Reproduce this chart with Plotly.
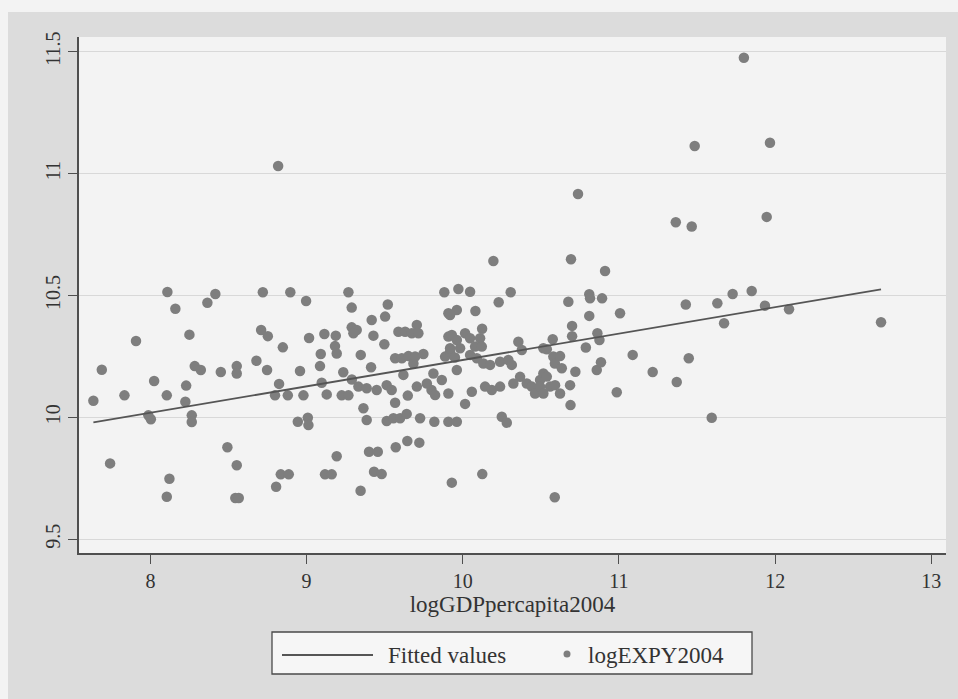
import plotly.graph_objects as go

# ---- data ----
gdp = [7.635, 7.689, 7.742, 7.834, 7.908, 7.987, 8.003, 8.024, 8.105, 8.109,
       8.122, 8.105, 8.160, 8.224, 8.229, 8.250, 8.265, 8.265, 8.284, 8.323,
       8.365, 8.416, 8.451, 8.493, 8.553, 8.544, 8.566, 8.553, 8.553,
       8.679, 8.709, 8.720, 8.747, 8.752, 8.798, 8.805, 8.824, 8.818, 8.835,
       8.848, 8.880, 8.886, 8.896, 8.944, 8.958, 8.980, 8.997, 9.008, 9.012,
       9.016, 9.086, 9.091, 9.097, 9.114, 9.118, 9.129, 9.161, 9.182, 9.187,
       9.193, 9.193, 9.225, 9.235, 9.268, 9.268, 9.289, 9.290,
       9.289, 9.321, 9.300, 9.332, 9.346, 9.347, 9.364, 9.385, 9.385, 9.400,
       9.413, 9.417, 9.428, 9.432, 9.449, 9.456, 9.481, 9.498, 9.503, 9.513,
       9.513, 9.520, 9.545, 9.556, 9.567, 9.567, 9.571, 9.588, 9.599, 9.610,
       9.620, 9.631, 9.641, 9.645, 9.648, 9.652, 9.674, 9.684, 9.695, 9.706,
       9.706, 9.716, 9.722, 9.727, 9.748, 9.770, 9.800, 9.812, 9.818, 9.823,
       9.866, 9.882, 9.887, 9.908, 9.908, 9.908, 9.908, 9.919, 9.930, 9.950,
       9.962, 9.919, 9.930, 9.962, 9.962, 9.962, 9.972, 9.919, 9.983, 10.015,
       10.015, 10.047, 10.047, 10.047, 10.058, 10.079, 10.081, 10.090, 10.111, 10.122,
       10.124, 10.125, 10.132, 10.143, 10.175, 10.186, 10.196, 10.230, 10.239, 10.239,
       10.250, 10.282, 10.292, 10.307, 10.314, 10.324, 10.356, 10.367, 10.378, 10.410,
       10.442, 10.463, 10.495, 10.495, 10.516, 10.516, 10.516, 10.538, 10.538, 10.559,
       10.576, 10.580, 10.589, 10.590, 10.591, 10.623, 10.623, 10.634,
       10.676, 10.687, 10.690, 10.693, 10.700, 10.700, 10.721, 10.738, 10.788, 10.810,
       10.815, 10.810, 10.858, 10.862, 10.875, 10.885, 10.892, 10.911, 10.986, 11.007,
       11.088, 11.216, 11.364, 11.370, 11.428, 11.447, 11.466, 11.485, 11.594, 11.630,
       11.673, 11.728, 11.800, 11.850, 11.935, 11.946, 11.967, 12.089, 12.678]

expy = [10.068, 10.195, 9.811, 10.090, 10.313, 10.008, 9.992, 10.149, 10.090, 10.514,
        9.748, 9.674, 10.445, 10.064, 10.130, 10.339, 10.008, 9.981, 10.210, 10.194,
        10.470, 10.506, 10.186, 9.877, 9.803, 9.669, 9.669, 10.210, 10.180,
        10.232, 10.358, 10.513, 10.194, 10.333, 10.090, 9.715, 10.137, 11.031, 9.766,
        10.287, 10.090, 9.766, 10.513, 9.982, 10.190, 10.090, 10.477, 9.998, 9.968,
        10.325, 10.210, 10.260, 10.142, 10.342, 9.766, 10.094, 9.766, 10.292, 10.335,
        10.262, 9.840, 10.090, 10.185, 10.090, 10.513, 10.450, 10.155,
        10.369, 10.358, 10.345, 10.126, 9.699, 10.256, 10.037, 9.989, 10.119, 9.859,
        10.205, 10.399, 10.335, 9.777, 10.112, 9.859, 9.767, 10.300, 10.413, 10.132,
        9.985, 10.463, 10.112, 9.996, 10.242, 10.060, 9.877, 10.351, 9.996, 10.242,
        10.174, 10.351, 10.014, 9.903, 10.089, 10.251, 10.345, 10.221, 10.249, 10.379,
        10.126, 10.345, 9.896, 9.996, 10.260, 10.139, 10.112, 10.180, 9.982, 10.091,
        10.153, 10.513, 10.249, 10.427, 10.331, 9.982, 10.098, 10.269, 9.732, 10.245,
        10.440, 10.420, 10.338, 9.982, 10.317, 10.194, 10.526, 10.283, 10.283, 10.345,
        10.055, 10.515, 10.324, 10.256, 10.105, 10.290, 10.436, 10.242, 10.324, 10.290,
        10.363, 9.767, 10.221, 10.126, 10.215, 10.112, 10.641, 10.472, 10.228, 10.126,
        10.002, 9.978, 10.235, 10.513, 10.215, 10.139, 10.310, 10.166, 10.276, 10.139,
        10.126, 10.098, 10.153, 10.126, 10.180, 10.098, 10.283, 10.279, 10.167, 10.126,
        10.320, 10.249, 9.672, 10.221, 10.132, 10.251, 10.098, 10.201,
        10.474, 10.132, 10.050, 10.648, 10.375, 10.333, 10.187, 10.916, 10.286, 10.505,
        10.488, 10.416, 10.194, 10.345, 10.317, 10.226, 10.488, 10.600, 10.103, 10.427,
        10.256, 10.186, 10.800, 10.145, 10.463, 10.242, 10.783, 11.113, 9.998, 10.468,
        10.386, 10.506, 11.475, 10.518, 10.458, 10.822, 11.126, 10.443, 10.390]

fit_x = [7.635, 12.678]
fit_y = [9.979, 10.525]

x_ticks = [8, 9, 10, 11, 12, 13]
y_ticks = [9.5, 10, 10.5, 11, 11.5]
y_tick_text = ["9.5", "10", "10.5", "11", "11.5"]

x_title = "logGDPpercapita2004"
legend_labels = ["Fitted values", "logEXPY2004"]

# ---- styling ----
FONT = "Liberation Serif"
AX = "#4f4f4f"
MARK = "#7e7e7e"
W, H = 958, 699
L, R, T, B = 79, 12, 37, 146
PW, PH = W - L - R, H - T - B


def px_x(p):
    return (p - L) / PW


def px_y(p):
    return (H - B - p) / PH


fig = go.Figure()
fig.add_trace(go.Scatter(x=gdp, y=expy, mode="markers", name=legend_labels[1],
                         marker=dict(color=MARK, size=10.5, line=dict(width=0)),
                         showlegend=False))
fig.add_trace(go.Scatter(x=fit_x, y=fit_y, mode="lines", name=legend_labels[0],
                         line=dict(color="#555555", width=1.8), showlegend=False))

shapes = [
    # light outer strips (left and top)
    dict(type="rect", xref="paper", yref="paper", x0=px_x(0), x1=px_x(8),
         y0=px_y(H), y1=px_y(0), fillcolor="#f3f3f3", line=dict(width=0), layer="below"),
    dict(type="rect", xref="paper", yref="paper", x0=px_x(0), x1=px_x(W),
         y0=px_y(12), y1=px_y(0), fillcolor="#f3f3f3", line=dict(width=0), layer="below"),
    # legend box
    dict(type="rect", xref="paper", yref="paper", x0=px_x(272), x1=px_x(752),
         y0=px_y(674), y1=px_y(632), fillcolor="#f6f6f6",
         line=dict(color="#4a4a4a", width=1.3)),
    dict(type="line", xref="paper", yref="paper", x0=px_x(282), x1=px_x(373),
         y0=px_y(655), y1=px_y(655), line=dict(color="#555555", width=2)),
    dict(type="circle", xref="paper", yref="paper", x0=px_x(563.5), x1=px_x(570.5),
         y0=px_y(657.5), y1=px_y(650.5), fillcolor=MARK, line=dict(width=0)),
]

annotations = [
    dict(xref="paper", yref="paper", x=px_x(386), y=px_y(655), text=legend_labels[0],
         showarrow=False, xanchor="left", yanchor="middle",
         font=dict(family=FONT, size=23, color="#333333")),
    dict(xref="paper", yref="paper", x=px_x(586), y=px_y(655), text=legend_labels[1],
         showarrow=False, xanchor="left", yanchor="middle",
         font=dict(family=FONT, size=23, color="#333333")),
]

fig.update_layout(
    width=W, height=H, autosize=False,
    margin=dict(l=L, r=R, t=T, b=B, pad=0),
    paper_bgcolor="#dcdcdc", plot_bgcolor="#f3f3f3",
    showlegend=False, shapes=shapes, annotations=annotations,
    font=dict(family=FONT, color="#333333"),
)
fig.update_xaxes(range=[7.543, 13.094], tickvals=x_ticks, ticks="outside", ticklen=9,
                 tickwidth=1.3, tickcolor=AX, showline=True, linecolor=AX, linewidth=1.5,
                 showgrid=False, zeroline=False,
                 tickfont=dict(family=FONT, size=20, color="#333333"),
                 title=dict(text=x_title, font=dict(family=FONT, size=23, color="#333333"),
                            standoff=3))
fig.update_yaxes(range=[9.4434, 11.56], tickvals=y_ticks, ticktext=y_tick_text,
                 tickangle=-90, ticks="outside", ticklen=9, tickwidth=1.3, tickcolor=AX,
                 showline=True, linecolor=AX, linewidth=1.5, showgrid=True,
                 gridcolor="#d8d8d8", gridwidth=1, zeroline=False,
                 tickfont=dict(family=FONT, size=20, color="#333333"),
                 ticklabelstandoff=0)

fig.write_html("out.html")
